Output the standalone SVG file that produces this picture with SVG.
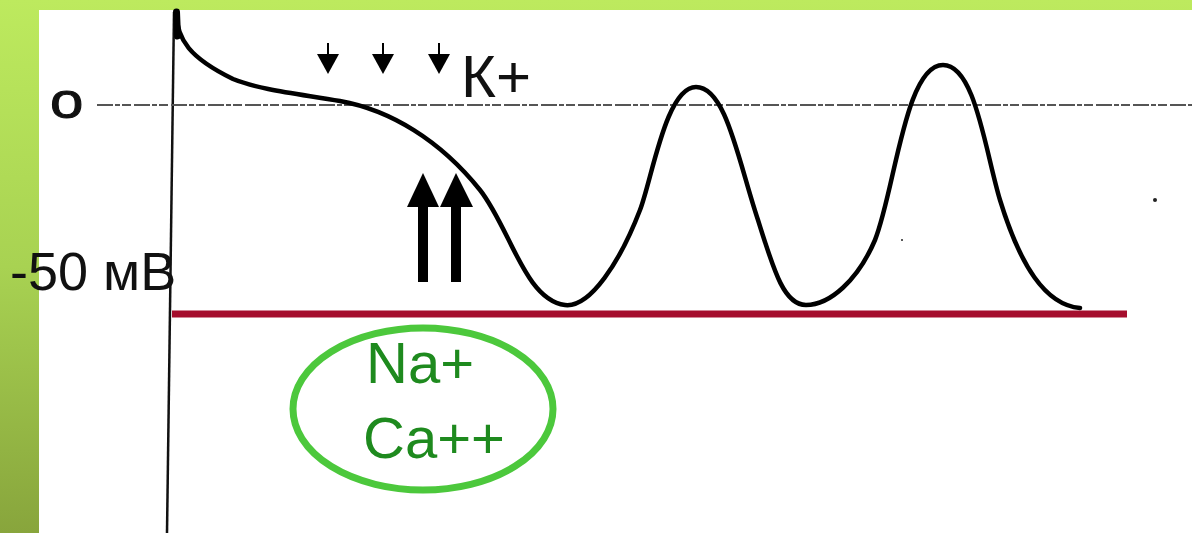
<svg xmlns="http://www.w3.org/2000/svg" width="1192" height="533" viewBox="0 0 1192 533">
  <defs>
    <linearGradient id="bg" x1="0" y1="0" x2="0" y2="1">
      <stop offset="0" stop-color="#bdea5e"/>
      <stop offset="0.5" stop-color="#a8d252"/>
      <stop offset="1" stop-color="#88a53c"/>
    </linearGradient>
    <style>
      .lbl { font-family: "Liberation Sans", Arial, sans-serif; fill: #111; }
      .ion { font-family: "Liberation Sans", Arial, sans-serif; fill: #1e8a1e; font-size: 58px; }
      .curve { fill: none; stroke: #000; stroke-width: 4.5; stroke-linecap: round; stroke-linejoin: round; }
    </style>
  </defs>
  <rect x="0" y="0" width="1192" height="533" fill="url(#bg)"/>
  <rect x="39" y="10" width="1153" height="523" fill="#ffffff"/>

  <g id="axes">
    <line x1="174" y1="12" x2="167" y2="533" stroke="#111" stroke-width="2.5"/>
    <line x1="97" y1="105" x2="1192" y2="105" stroke="#555" stroke-width="2" stroke-dasharray="16 2 5 2 9 3"/>
    <line x1="172" y1="314" x2="1127" y2="314" stroke="#a50e2d" stroke-width="7"/>
  </g>

  <g id="labels">
    <text class="lbl" x="50" y="118" font-size="50" stroke="#111" stroke-width="1" transform="translate(50 0) scale(1.2 1) translate(-50 0)">o</text>
    <text class="lbl" x="10" y="290" font-size="54">-50 мВ</text>
    <text class="lbl" x="461" y="97" font-size="60">К+</text>
  </g>

  <g id="curve">
    <line x1="176.5" y1="12" x2="177.5" y2="36" stroke="#000" stroke-width="7" stroke-linecap="round"/>
    <path class="curve" d="M176,12 C177,40 190,58 233,79 C260,90 300,94 340,101 C390,110 440,140 480,190 C510,228 525,300 565,305 C590,308 620,262 640,210 C652,179 666,87 696,87 C726,87 738,160 758,220 C775,275 785,305 806,305 C830,305 858,280 875,240 C895,190 905,65 943,65 C975,65 985,150 1000,200 C1020,265 1045,305 1080,308"/>
  </g>

  <g id="connectors">
    <g id="k-arrows" fill="#000" stroke="#000">
      <line x1="328" y1="43" x2="328" y2="58" stroke-width="2"/>
      <polygon points="317,54 339,54 328,74" stroke="none"/>
      <line x1="383" y1="43" x2="383" y2="58" stroke-width="2"/>
      <polygon points="372,54 394,54 383,74" stroke="none"/>
      <line x1="439" y1="43" x2="439" y2="58" stroke-width="2"/>
      <polygon points="428,54 450,54 439,74" stroke="none"/>
    </g>
    <g id="na-arrows" fill="#000">
      <rect x="418" y="204" width="10" height="78"/>
      <polygon points="423,173 439,207 407,207"/>
      <rect x="451" y="204" width="10" height="78"/>
      <polygon points="456,173 473,207 440,207"/>
    </g>
  </g>

  <g id="ions">
    <ellipse cx="423" cy="409" rx="130" ry="81" fill="none" stroke="#4cc83c" stroke-width="7"/>
    <text class="ion" x="366" y="383">Na+</text>
    <text class="ion" x="363" y="458">Ca++</text>
  </g>

  <g id="specks" fill="#222">
    <circle cx="1155" cy="200" r="2"/>
    <circle cx="902" cy="240" r="1"/>
  </g>
</svg>
